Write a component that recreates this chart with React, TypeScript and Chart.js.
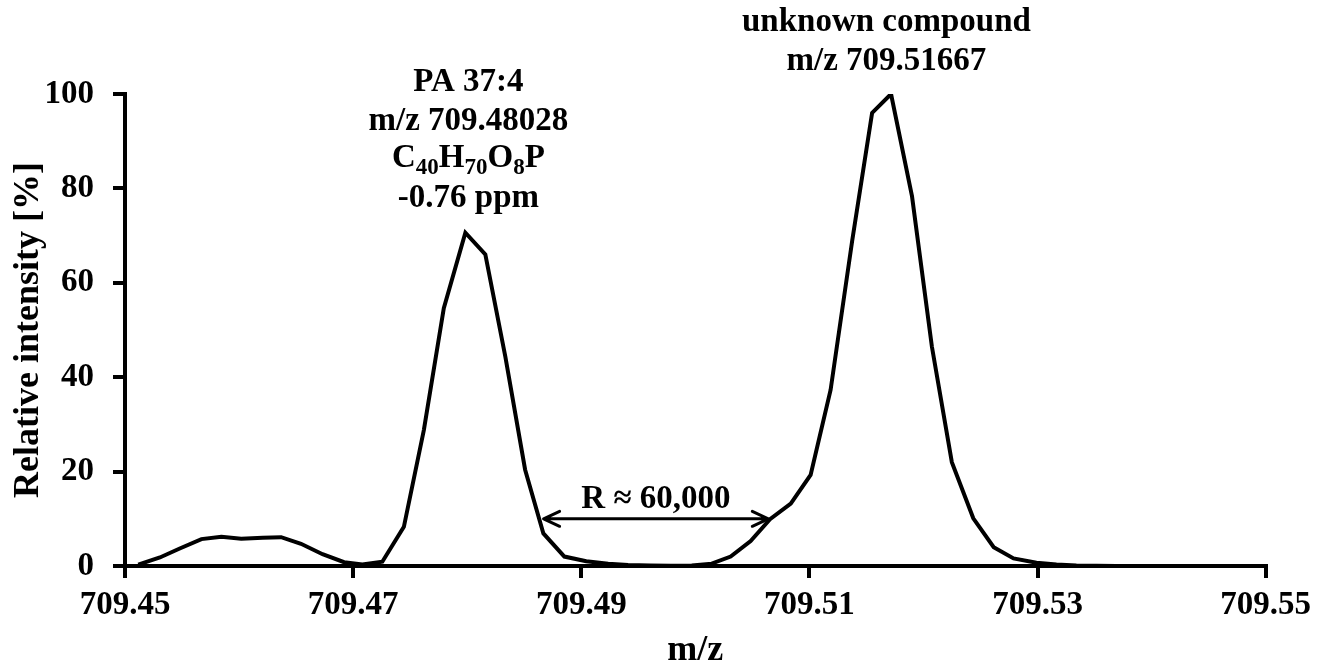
import React, { useEffect, useRef } from "react";
import { Chart, registerables } from "chart.js";

Chart.register(...registerables);

// ---- data ----
const MZ = [
  709.45116, 709.45306, 709.4548, 709.4567, 709.45845, 709.46019, 709.46208, 709.46369,
  709.46543, 709.46732, 709.46921, 709.47081, 709.47256, 709.47445, 709.4762, 709.47795,
  709.47984, 709.48159, 709.48334, 709.48508, 709.48668, 709.48852, 709.49044, 709.49236,
  709.4941, 709.49603, 709.49786, 709.49969, 709.50144, 709.5031, 709.50485, 709.50655,
  709.50837, 709.51011, 709.51186, 709.51376, 709.5155, 709.51716, 709.519, 709.52074,
  709.52249, 709.52437, 709.52616, 709.5279, 709.52991, 709.53166, 709.53341, 709.53515,
  709.5369, 709.53865, 709.5404,
];
const INTENSITY = [
  0.3, 1.8, 3.7, 5.7, 6.2, 5.8, 6.0, 6.1,
  4.7, 2.5, 0.8, 0.3, 0.9, 8.3, 28.8, 54.6,
  70.6, 66.0, 44.4, 20.4, 6.9, 2.0, 1.0, 0.5,
  0.2, 0.1, 0.05, 0.1, 0.5, 2.0, 5.3, 9.9,
  13.2, 19.3, 37.3, 69.0, 96.0, 100, 78.3, 46.5,
  22.0, 10.1, 4.0, 1.6, 0.7, 0.3, 0.1, 0.05,
  0, 0, 0,
];
const X_TICKS = [709.45, 709.47, 709.49, 709.51, 709.53, 709.55];
const Y_TICKS = [0, 20, 40, 60, 80, 100];

const LEFT_LABEL_MZ = 709.48028;
const LEFT_LINES = ["PA 37:4", "m/z 709.48028", "-0.76 ppm"];
const FORMULA = [
  ["C", "40"],
  ["H", "70"],
  ["O", "8"],
  ["P", ""],
];
const RIGHT_LABEL_MZ = 709.51667;
const RIGHT_LINES = ["unknown compound", "m/z 709.51667"];
const RES_TEXT = "R \u2248 60,000";
const RES_FROM = 709.4867;
const RES_TO = 709.5064;
const RES_LEVEL = 10;

const FONT = "'Liberation Serif', 'Times New Roman', Times, serif";

const annotations = {
  id: "annotations",
  afterDraw(chart: any) {
    const ctx = chart.ctx as CanvasRenderingContext2D;
    const xs = chart.scales.x;
    const ys = chart.scales.y;
    ctx.save();
    ctx.fillStyle = "#000";
    ctx.strokeStyle = "#000";
    ctx.textBaseline = "alphabetic";
    ctx.textAlign = "center";
    const mainFont = `bold 33px ${FONT}`;
    const subFont = `bold 23px ${FONT}`;
    ctx.font = mainFont;

    // left peak label
    const lx = xs.getPixelForValue(LEFT_LABEL_MZ) - 2;
    ctx.fillText(LEFT_LINES[0], lx, 91);
    ctx.fillText(LEFT_LINES[1], lx, 130);
    // formula with subscripts
    let total = 0;
    FORMULA.forEach(([el, n]) => {
      ctx.font = mainFont;
      total += ctx.measureText(el).width;
      ctx.font = subFont;
      if (n) total += ctx.measureText(n).width;
    });
    let fx = lx - total / 2;
    ctx.textAlign = "left";
    FORMULA.forEach(([el, n]) => {
      ctx.font = mainFont;
      ctx.fillText(el, fx, 167);
      fx += ctx.measureText(el).width;
      if (n) {
        ctx.font = subFont;
        ctx.fillText(n, fx, 174);
        fx += ctx.measureText(n).width;
      }
    });
    ctx.textAlign = "center";
    ctx.font = mainFont;
    ctx.fillText(LEFT_LINES[2], lx, 207);

    // right peak label
    const rx = xs.getPixelForValue(RIGHT_LABEL_MZ) + 1;
    ctx.fillText(RIGHT_LINES[0], rx, 31);
    ctx.fillText(RIGHT_LINES[1], rx, 70);

    // resolution arrow
    const x1 = xs.getPixelForValue(RES_FROM);
    const x2 = xs.getPixelForValue(RES_TO);
    const ay = ys.getPixelForValue(RES_LEVEL);
    ctx.lineWidth = 3;
    ctx.lineCap = "round";
    ctx.lineJoin = "round";
    ctx.beginPath();
    ctx.moveTo(x1, ay);
    ctx.lineTo(x2, ay);
    ctx.moveTo(x1 + 16, ay - 7.5);
    ctx.lineTo(x1, ay);
    ctx.lineTo(x1 + 16, ay + 7.5);
    ctx.moveTo(x2 - 16, ay - 7.5);
    ctx.lineTo(x2, ay);
    ctx.lineTo(x2 - 16, ay + 7.5);
    ctx.stroke();
    ctx.fillText(RES_TEXT, (x1 + x2) / 2, ay - 11);
    ctx.restore();
  },
};

export default function App() {
  const ref = useRef<HTMLCanvasElement>(null);

  useEffect(() => {
    if (!ref.current) return;
    const tickFont = { family: FONT, size: 33, weight: "bold" as const };
    const titleFont = { family: FONT, size: 36, weight: "bold" as const };
    const chart = new Chart(ref.current, {
      type: "line",
      data: {
        datasets: [
          {
            data: MZ.map((x, i) => ({ x, y: INTENSITY[i] })),
            borderColor: "#000",
            borderWidth: 4,
            pointRadius: 0,
            tension: 0,
            fill: false,
          },
        ],
      },
      options: {
        animation: false,
        responsive: false,
        events: [],
        layout: { padding: { top: 94, right: 50, left: 0, bottom: 0 } },
        plugins: { legend: { display: false }, tooltip: { enabled: false } },
        scales: {
          x: {
            type: "linear",
            min: X_TICKS[0],
            max: X_TICKS[X_TICKS.length - 1],
            afterBuildTicks: (s: any) => {
              s.ticks = X_TICKS.map((v) => ({ value: v }));
            },
            afterFit: (s: any) => {
              s.height = 98;
            },
            ticks: {
              callback: (v: any) => Number(v).toFixed(2),
              font: tickFont,
              color: "#000",
              padding: 8,
              maxRotation: 0,
              autoSkip: false,
            },
            grid: {
              display: true,
              drawOnChartArea: false,
              drawTicks: true,
              tickLength: 12,
              tickWidth: 4,
              tickColor: "#000",
              color: "#000",
              lineWidth: 4,
            },
            border: { display: true, color: "#000", width: 4 },
            title: {
              display: true,
              text: "m/z",
              color: "#000",
              font: { ...titleFont, lineHeight: 1 },
              padding: { top: 0, bottom: -5 },
            },
          },
          y: {
            type: "linear",
            min: Y_TICKS[0],
            max: Y_TICKS[Y_TICKS.length - 1],
            afterBuildTicks: (s: any) => {
              s.ticks = Y_TICKS.map((v) => ({ value: v }));
            },
            afterFit: (s: any) => {
              s.width = 125;
            },
            ticks: {
              font: tickFont,
              color: "#000",
              padding: 19,
            },
            grid: {
              display: true,
              drawOnChartArea: false,
              drawTicks: true,
              tickLength: 12,
              tickWidth: 4,
              tickColor: "#000",
              color: "#000",
              lineWidth: 4,
            },
            border: { display: true, color: "#000", width: 4 },
            title: {
              display: true,
              text: "Relative intensity [%]",
              color: "#000",
              font: titleFont,
              padding: { top: 7, bottom: 0 },
            },
          },
        },
      },
      plugins: [annotations],
    });
    return () => chart.destroy();
  }, []);

  return (
    <div
      style={{
        position: "fixed",
        left: 0,
        top: 0,
        width: 1319,
        height: 664,
        background: "#fff",
      }}
    >
      <canvas ref={ref} width={1319} height={664} />
    </div>
  );
}
